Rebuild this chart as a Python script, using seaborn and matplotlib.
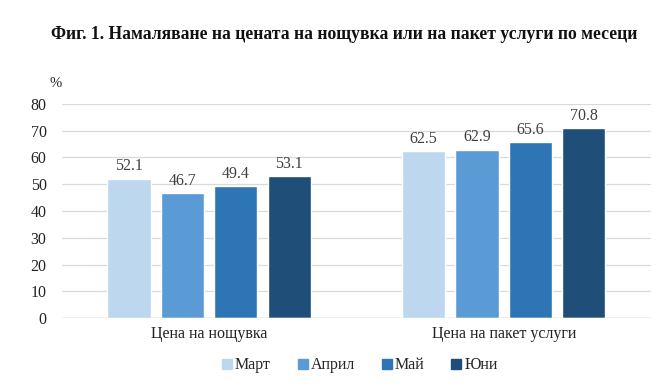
import matplotlib
matplotlib.use('Agg')
import matplotlib.pyplot as plt
import pandas as pd
import seaborn as sns
from matplotlib.lines import Line2D

categories = ['Цена на нощувка', 'Цена на пакет услуги']
months = ['Март', 'Април', 'Май', 'Юни']
values_march = [52.1, 62.5]
values_april = [46.7, 62.9]
values_may = [49.4, 65.6]
values_june = [53.1, 70.8]
colors = ['#BDD7EE', '#5B9BD5', '#2E75B6', '#1F4E79']

rows = []
for month, vals in zip(months, [values_march, values_april, values_may, values_june]):
    for cat, v in zip(categories, vals):
        rows.append({'category': cat, 'month': month, 'value': v})
df = pd.DataFrame(rows)

sns.set_theme(style='white')
plt.rcParams['font.family'] = ['Liberation Serif', 'DejaVu Serif']

fig = plt.figure(figsize=(6.65, 3.86), dpi=100)
ax = fig.add_axes([0.093, 0.176, 0.886, 0.555])

sns.barplot(data=df, x='category', y='value', hue='month', order=categories,
            hue_order=months, palette=colors, width=0.725, gap=0.19,
            saturation=1, legend=False, ax=ax)

for cont in ax.containers:
    ax.bar_label(cont, fmt='%.1f', padding=3, fontsize=11.5, color='#404040')

ax.set_ylim(0, 80)
ax.set_xlim(-0.5, 1.5)
ax.set_yticks(range(0, 81, 10))
ax.yaxis.grid(True, color='#d9d9d9', linewidth=0.9)
ax.set_axisbelow(True)
for s in ax.spines.values():
    s.set_visible(False)
ax.axhline(0, color='#d0d0d0', linewidth=1)
ax.set_xlabel('')
ax.set_ylabel('')
ax.tick_params(axis='y', labelsize=11.5, pad=11, length=0, labelcolor='#222222')
ax.tick_params(axis='x', labelsize=11.5, pad=6, length=0, labelcolor='#222222')

fig.text(0.075, 0.775, '%', fontsize=10.5, color='#222222')
fig.text(0.517, 0.91, 'Фиг. 1. Намаляване на цената на нощувка или на пакет услуги по месеци',
         ha='center', va='center', fontsize=12.7, fontweight='bold', color='#111111')

handles = [Line2D([0], [0], marker='s', linestyle='', markersize=7,
                  markerfacecolor=c, markeredgecolor=c) for c in colors]
fig.legend(handles, months, loc='center', bbox_to_anchor=(0.54, 0.054), ncol=4,
           frameon=False, fontsize=11.5, handletextpad=0.1, columnspacing=1.6,
           handlelength=0.8)

fig.savefig('out.png', dpi=100)
